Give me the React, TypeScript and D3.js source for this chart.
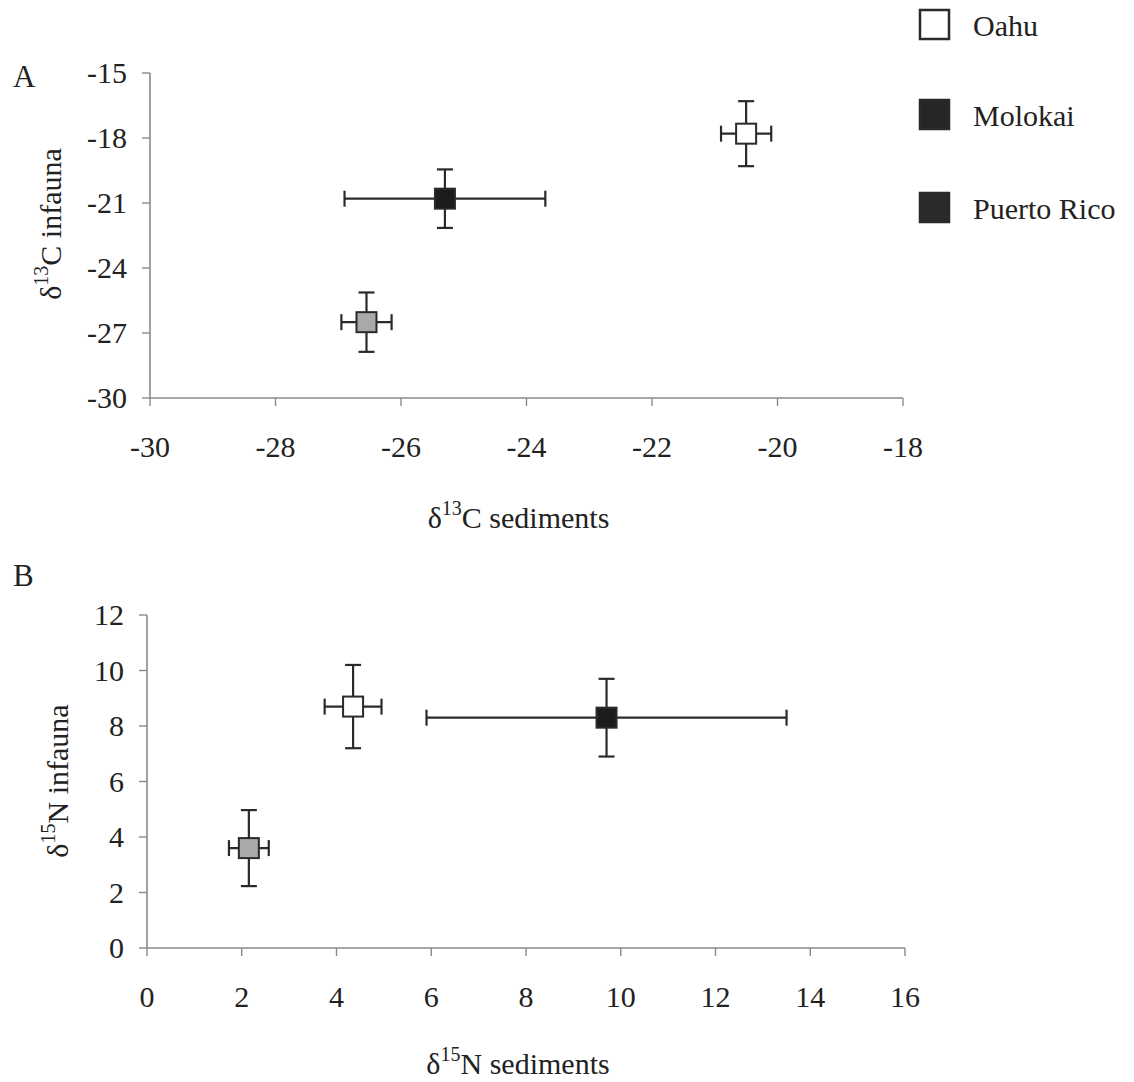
import React from "react";
import * as d3 from "d3";

// Sites
const regions = ["Oahu", "Molokai", "Puerto Rico"];
const legendFill = ["#ffffff", "#262626", "#2a2a2a"];
const markerFill = ["#ffffff", "#1c1c1c", "#a9a9a9"];

// Panel A: δ13C (mean ± SD)
const carbonSedMean = [-20.5, -25.3, -26.55];
const carbonSedSD = [0.4, 1.6, 0.4];
const carbonInfMean = [-17.8, -20.8, -26.5];
const carbonInfSD = [1.5, 1.35, 1.37];

// Panel B: δ15N (mean ± SD)
const nitroSedMean = [4.35, 9.7, 2.15];
const nitroSedSD = [0.6, 3.8, 0.42];
const nitroInfMean = [8.7, 8.3, 3.6];
const nitroInfSD = [1.5, 1.4, 1.37];

const carbonXTicks = [-30, -28, -26, -24, -22, -20, -18];
const carbonYTicks = [-30, -27, -24, -21, -18, -15];
const nitroXTicks = [0, 2, 4, 6, 8, 10, 12, 14, 16];
const nitroYTicks = [0, 2, 4, 6, 8, 10, 12];

const FONT = "'Liberation Serif', 'Times New Roman', serif";
const INK = "#222";
const AXIS = "#8a8a8a";

type PanelProps = {
  xDomain: [number, number];
  yDomain: [number, number];
  xRange: [number, number];
  yRange: [number, number];
  xTicks: number[];
  yTicks: number[];
  xMean: number[];
  xSD: number[];
  yMean: number[];
  ySD: number[];
  iso: string;
  element: string;
  yTitleX: number;
  yTitleY: number;
  xTitleY: number;
};

function Panel(p: PanelProps) {
  const x = d3.scaleLinear().domain(p.xDomain).range(p.xRange);
  const y = d3.scaleLinear().domain(p.yDomain).range(p.yRange);
  const x0 = p.xRange[0];
  const y0 = p.yRange[0];
  const box = 20;
  const cap = 8;
  const cx = (p.xRange[0] + p.xRange[1]) / 2;
  return (
    <g>
      {/* axes */}
      <line x1={x0} x2={x0} y1={p.yRange[1]} y2={y0} stroke={AXIS} strokeWidth={1.6} />
      <line x1={x0} x2={p.xRange[1]} y1={y0} y2={y0} stroke={AXIS} strokeWidth={1.6} />
      {p.yTicks.map((t) => (
        <g key={"y" + t}>
          <line x1={x0 - 8} x2={x0} y1={y(t)} y2={y(t)} stroke={AXIS} strokeWidth={1.4} />
          <text x={x0 - 23} y={y(t) + 10} textAnchor="end" fontSize={30} fill={INK} fontFamily={FONT}>
            {t}
          </text>
        </g>
      ))}
      {p.xTicks.map((t) => (
        <g key={"x" + t}>
          <line x1={x(t)} x2={x(t)} y1={y0} y2={y0 + 8} stroke={AXIS} strokeWidth={1.4} />
          <text x={x(t)} y={y0 + 59} textAnchor="middle" fontSize={30} fill={INK} fontFamily={FONT}>
            {t}
          </text>
        </g>
      ))}
      {/* axis titles */}
      <text x={cx - 8} y={p.xTitleY} textAnchor="middle" fontSize={30} fill={INK} fontFamily={FONT}>
        δ<tspan fontSize={20} dy={-13}>{p.iso}</tspan>
        <tspan dy={13}>{p.element + " sediments"}</tspan>
      </text>
      <text
        transform={`translate(${p.yTitleX},${p.yTitleY}) rotate(-90)`}
        textAnchor="middle"
        fontSize={30}
        fill={INK}
        fontFamily={FONT}
      >
        δ<tspan fontSize={20} dy={-13}>{p.iso}</tspan>
        <tspan dy={13}>{p.element + " infauna"}</tspan>
      </text>
      {/* error bars and markers */}
      {regions.map((r, i) => {
        const mx = x(p.xMean[i]);
        const my = y(p.yMean[i]);
        const xl = x(p.xMean[i] - p.xSD[i]);
        const xr = x(p.xMean[i] + p.xSD[i]);
        const yt = y(p.yMean[i] + p.ySD[i]);
        const yb = y(p.yMean[i] - p.ySD[i]);
        return (
          <g key={r} stroke="#2a2a2a" strokeWidth={2.2}>
            <line x1={xl} x2={xr} y1={my} y2={my} />
            <line x1={xl} x2={xl} y1={my - cap} y2={my + cap} />
            <line x1={xr} x2={xr} y1={my - cap} y2={my + cap} />
            <line x1={mx} x2={mx} y1={yt} y2={yb} />
            <line x1={mx - cap} x2={mx + cap} y1={yt} y2={yt} />
            <line x1={mx - cap} x2={mx + cap} y1={yb} y2={yb} />
            <rect x={mx - box / 2} y={my - box / 2} width={box} height={box} fill={markerFill[i]} strokeWidth={2} />
          </g>
        );
      })}
    </g>
  );
}

export default function App() {
  return (
    <svg
      width={1134}
      height={1082}
      style={{ position: "absolute", left: 0, top: 0, background: "#fff" }}
    >
      <rect width={1134} height={1082} fill="#fff" />
      <text x={13} y={87} fontSize={31} fill={INK} fontFamily={FONT}>A</text>
      <text x={13} y={586} fontSize={31} fill={INK} fontFamily={FONT}>B</text>
      <Panel
        xDomain={[-30, -18]}
        yDomain={[-30, -15]}
        xRange={[150, 903]}
        yRange={[398, 73]}
        xTicks={carbonXTicks}
        yTicks={carbonYTicks}
        xMean={carbonSedMean}
        xSD={carbonSedSD}
        yMean={carbonInfMean}
        ySD={carbonInfSD}
        iso="13"
        element="C"
        yTitleX={61}
        yTitleY={224}
        xTitleY={528}
      />
      <Panel
        xDomain={[0, 16]}
        yDomain={[0, 12]}
        xRange={[147, 905]}
        yRange={[948, 615]}
        xTicks={nitroXTicks}
        yTicks={nitroYTicks}
        xMean={nitroSedMean}
        xSD={nitroSedSD}
        yMean={nitroInfMean}
        ySD={nitroInfSD}
        iso="15"
        element="N"
        yTitleX={68}
        yTitleY={781}
        xTitleY={1074}
      />
      {/* legend */}
      {regions.map((r, i) => {
        const top = [10, 100, 193][i];
        return (
          <g key={r}>
            <rect x={920} y={top} width={29} height={29} fill={legendFill[i]} stroke="#2a2a2a" strokeWidth={2.5} />
            <text x={973} y={top + 26} fontSize={30} fill={INK} fontFamily={FONT}>{r}</text>
          </g>
        );
      })}
    </svg>
  );
}
